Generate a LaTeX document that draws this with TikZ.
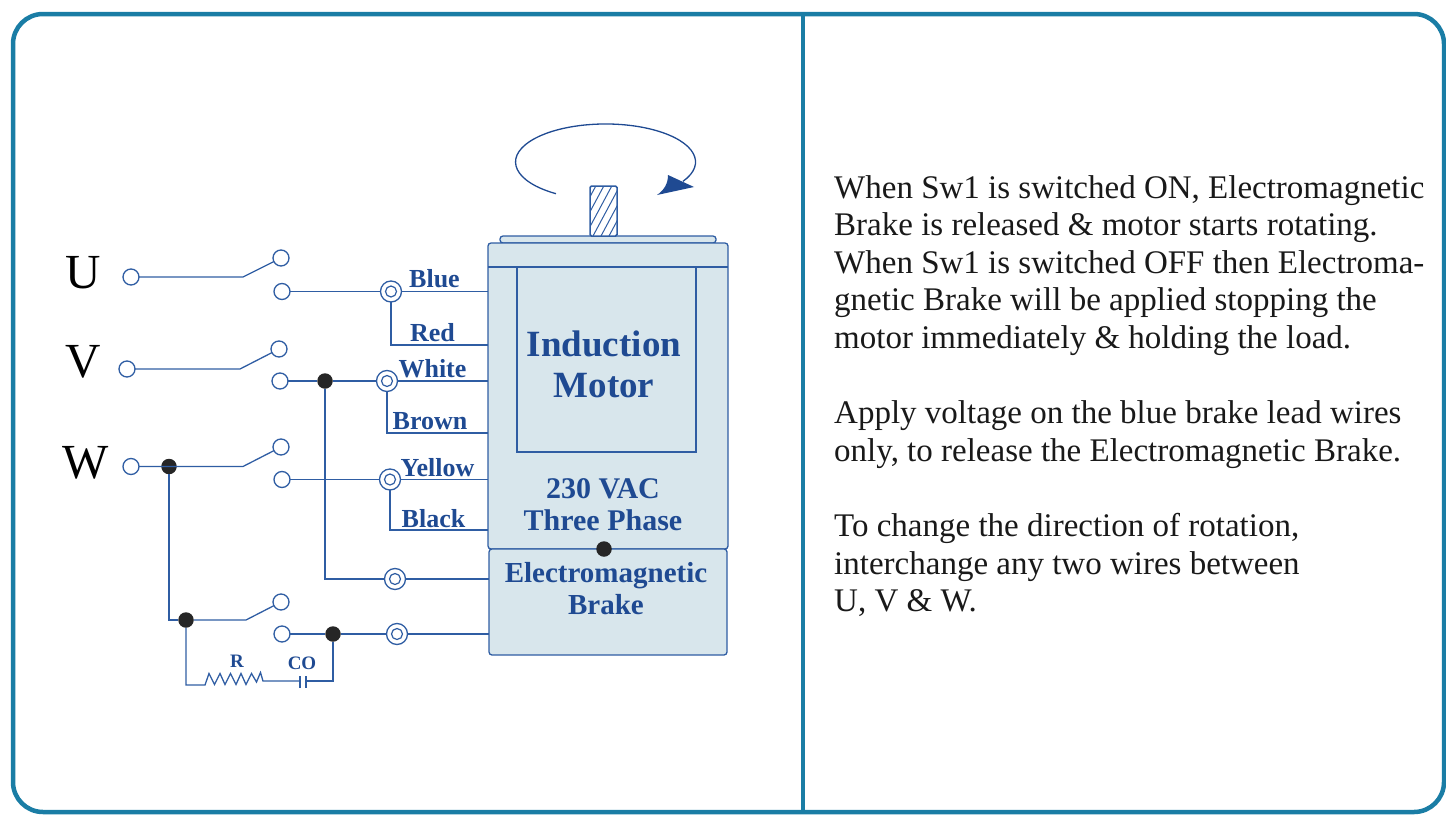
\documentclass[tikz,border=0pt]{standalone}
\usepackage{fontspec}
\setmainfont{Liberation Serif}
\definecolor{framecol}{HTML}{1A7DA5}
\definecolor{wirecol}{HTML}{2F5DA3}
\definecolor{labelcol}{HTML}{1F4A92}
\definecolor{bodycol}{HTML}{D8E6EC}
\begin{document}
\begin{tikzpicture}[x=1pt, y=-1pt, draw=wirecol]
\tikzstyle{wire}=[wirecol, line width=1.3pt]
\tikzstyle{terminal}=[circle, draw=wirecol, line width=1.3pt, fill=white, minimum size=16pt, inner sep=0pt, outer sep=0pt]
\tikzstyle{ring}=[terminal, minimum size=21pt, path picture={\draw[wirecol, line width=1.2pt] (path picture bounding box.center) circle (5.5pt);}]
\tikzstyle{junction}=[circle, fill=black!85, minimum size=15.5pt, inner sep=0pt, outer sep=0pt]
\tikzstyle{housing}=[rectangle, rounded corners=3pt, draw=wirecol, line width=1.3pt, fill=bodycol, inner sep=0pt, outer sep=0pt]
\tikzstyle{phase}=[text=black, font=\fontsize{49}{49}\selectfont]
\tikzstyle{lead}=[text=labelcol, font=\fontsize{26}{26}\selectfont\bfseries]
\tikzstyle{title}=[text=labelcol, align=center, font=\bfseries]

\useasboundingbox (0,0) rectangle (1446,819);

% Draw the outer frame
\draw[framecol, line width=4.5pt, rounded corners=30pt] (13,14) rectangle (1444,812);
\draw[framecol, line width=4.5pt] (803,14) -- (803,812);

% Draw the motor and brake
\node[housing, minimum width=216pt, minimum height=7pt] (plate) at (608,239.5) {};
\node[housing, rounded corners=1.5pt, fill=white, line width=1.5pt, minimum width=27pt, minimum height=50pt, path picture={
    \foreach \k in {-29,-21,...,27}
        \draw[wirecol, line width=1pt] ([xshift=\k pt]path picture bounding box.south west) -- ++(30,-56);
}] (shaft) at (603.5,211) {};
\node[housing, minimum width=240pt, minimum height=306pt] (motor) at (608,396) {};
\node[housing, rounded corners=0pt, minimum width=179pt, minimum height=185pt] (window) at (606.5,359.5) {};
\node[housing, minimum width=238pt, minimum height=106pt] (brake) at (608,602) {};
\draw[wire] (motor.west |- window.north) -- (motor.east |- window.north);
\node[junction] (ground) at (604,549) {};

\node[title, font=\fontsize{37}{41}\selectfont\bfseries] (name) at (604,364.5) {Induction\\Motor};
\node[title, font=\fontsize{30}{32}\selectfont\bfseries] (rating) at (603,505) {230 VAC\\Three Phase};
\node[title, font=\fontsize{29}{32}\selectfont\bfseries] (brakename) at (606,589) {Electromagnetic\\Brake};

% Draw the rotation arrow
\draw[labelcol, line width=1.3pt] (556,193.7) arc [start angle=123.4, end angle=390.6, x radius=90, y radius=38];
\fill[labelcol] (668,175) -- (694,187) -- (657,195) .. controls (664,190) and (668,184) .. (668,175) -- cycle;

% Draw the switches
\foreach \sw/\ax/\ay/\kx/\ky/\ux/\uy/\dx/\dy in {a/131/277/243/277/281/258/282/291.5, b/127/369/240/369/279/349/280/381, c/131/466.5/243/466.5/281/447/282/479.5} {
    \node[terminal] (in\sw) at (\ax,\ay) {};
    \coordinate (knee\sw) at (\kx,\ky);
    \node[terminal] (up\sw) at (\ux,\uy) {};
    \node[terminal] (low\sw) at (\dx,\dy) {};
};
\node[terminal] (upd) at (281,602) {};
\node[terminal] (lowd) at (282,634) {};
\coordinate (kneed) at (246,620);

\node[phase] (U) at (83.5,273) {U};
\node[phase] (V) at (83.5,362) {V};
\node[phase] (W) at (85.5,463) {W};

% Draw the junctions and rings
\node[junction] (dotv) at (325,381) {};
\node[junction] (dotw) at (169,466.5) {};
\node[junction] (dotk) at (186,620) {};
\node[junction] (dotc) at (333,634) {};
\node[ring] (ringa) at (391,291.5) {};
\node[ring] (ringb) at (387,381) {};
\node[ring] (ringc) at (390,479.5) {};
\node[ring] (ringd) at (395,579) {};
\node[ring] (ringe) at (397,634) {};

% Draw the wires
\foreach \sw in {a,b,c}
    \draw[wire] (in\sw) -- (knee\sw) -- (up\sw);
\draw[wire] (dotk) -- (kneed) -- (upd);
\draw[wire] (lowa) -- (ringa);
\draw[wire] (lowb) -- (dotv) -- (ringb);
\draw[wire] (lowc) -- (ringc);
\draw[wire] (lowd) -- (dotc) -- (ringe);
\draw[wire] (dotv) |- (ringd);
\draw[wire] (dotw) |- (dotk);

\coordinate (reda) at (488,345);
\coordinate (brown) at (488,433);
\coordinate (black) at (488,530);
\draw[wire] (ringa) -- (ringa -| motor.west);
\draw[wire] (ringa) |- (reda);
\draw[wire] (ringb) -- (ringb -| motor.west);
\draw[wire] (ringb) |- (brown);
\draw[wire] (ringc) -- (ringc -| motor.west);
\draw[wire] (ringc) |- (black);
\draw[wire] (ringd) -- (ringd -| brake.west);
\draw[wire] (ringe) -- (ringe -| brake.west);

% Draw the resistor and capacitor
\coordinate (resin) at (205,685);
\coordinate (resout) at (263,681);
\coordinate (capa) at (300,681);
\coordinate (capb) at (306,681);
\draw[wire] (dotk) |- (resin) -- (209,673.5) -- (214.5,684.5) -- (220,673.5) -- (225,684.5) -- (230.5,673.5) -- (236,684.5) -- (241,673.5) -- (246,684.5) -- (251.5,673.5) -- (256.5,682) -- (260.5,672.5) -- (resout) -- (capa);
\draw[wire] (capa |- 0,676) -- (capa |- 0,688);
\draw[wire] (capb |- 0,676) -- (capb |- 0,688);
\draw[wire] (capb) -| (dotc);

% Draw the labels
\node[lead] (blue) at (434.5,279) {Blue};
\node[lead] (red) at (432.5,333) {Red};
\node[lead] (white) at (432.5,369) {White};
\node[lead] (brownname) at (430,421) {Brown};
\node[lead] (yellow) at (437.5,468) {Yellow};
\node[lead] (blackname) at (433.5,519) {Black};
\node[lead, font=\fontsize{19}{19}\selectfont\bfseries] (R) at (237,661) {R};
\node[lead, font=\fontsize{19}{19}\selectfont\bfseries] (CO) at (302,663) {CO};

% Draw the text
\node[anchor=north west, align=left, inner sep=0pt, text=black!90, font=\fontsize{33}{37.6}\selectfont] (note) at (834,175) {
    When Sw1 is switched ON, Electromagnetic\\
    Brake is released \& motor starts rotating.\\
    When Sw1 is switched OFF then Electroma-\\
    gnetic Brake will be applied stopping the\\
    motor immediately \& holding the load.\\[37.6pt]
    Apply voltage on the blue brake lead wires\\
    only, to release the Electromagnetic Brake.\\[37.6pt]
    To change the direction of rotation,\\
    interchange any two wires between\\
    U, V \& W.
};

\end{tikzpicture}
\end{document}
